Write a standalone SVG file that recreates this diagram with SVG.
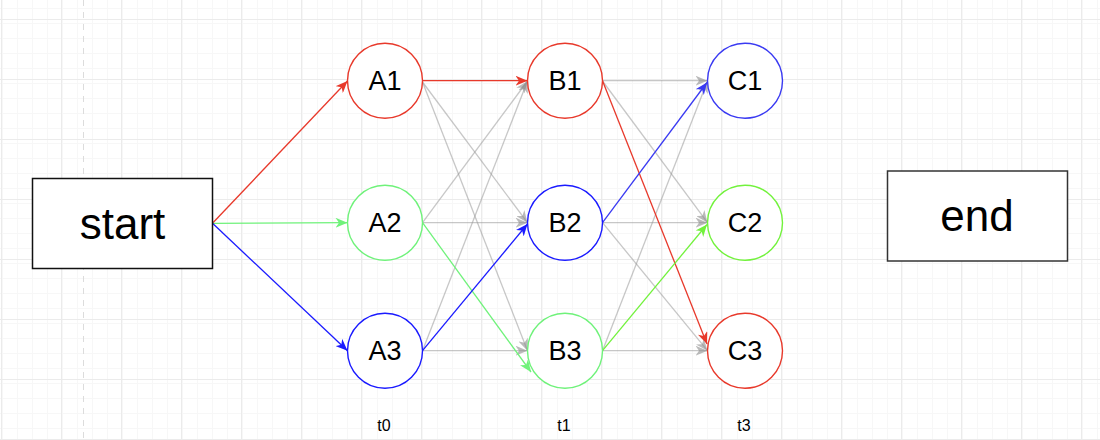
<svg xmlns="http://www.w3.org/2000/svg" width="1100" height="440" viewBox="0 0 1100 440">
  <defs>
    <pattern id="minor" x="1" y="19" width="15" height="15" patternUnits="userSpaceOnUse">
      <path d="M0.5 0V15M0 0.5H15" stroke="#f7f7f7" stroke-width="1" fill="none"/>
    </pattern>
    <pattern id="major" x="1" y="19" width="60" height="60" patternUnits="userSpaceOnUse">
      <rect width="60" height="60" fill="url(#minor)"/>
      <path d="M0.5 0V60M0 0.5H60" stroke="#ebebeb" stroke-width="1" fill="none"/>
    </pattern>
    <marker id="mRed" viewBox="0 0 12 10" refX="12" refY="5" markerWidth="12" markerHeight="10" markerUnits="userSpaceOnUse" orient="auto">
      <path d="M0,0 L12,5 L0,10 L3.5,5 Z" fill="#e8392b"/>
    </marker>
    <marker id="mGreen" viewBox="0 0 12 10" refX="12" refY="5" markerWidth="12" markerHeight="10" markerUnits="userSpaceOnUse" orient="auto">
      <path d="M0,0 L12,5 L0,10 L3.5,5 Z" fill="#6ff27a"/>
    </marker>
    <marker id="mLime" viewBox="0 0 12 10" refX="12" refY="5" markerWidth="12" markerHeight="10" markerUnits="userSpaceOnUse" orient="auto">
      <path d="M0,0 L12,5 L0,10 L3.5,5 Z" fill="#72f23c"/>
    </marker>
    <marker id="mBlue" viewBox="0 0 12 10" refX="12" refY="5" markerWidth="12" markerHeight="10" markerUnits="userSpaceOnUse" orient="auto">
      <path d="M0,0 L12,5 L0,10 L3.5,5 Z" fill="#1a1aff"/>
    </marker>
    <marker id="mBlue2" viewBox="0 0 12 10" refX="12" refY="5" markerWidth="12" markerHeight="10" markerUnits="userSpaceOnUse" orient="auto">
      <path d="M0,0 L12,5 L0,10 L3.5,5 Z" fill="#3a3af2"/>
    </marker>
    <marker id="mGray" viewBox="0 0 12 10" refX="12" refY="5" markerWidth="12" markerHeight="10" markerUnits="userSpaceOnUse" orient="auto">
      <path d="M0,0 L12,5 L0,10 L3.5,5 Z" fill="#8c8c8c" fill-opacity="0.6"/>
    </marker>
  </defs>
  <style>
    .lbl { font-family: "Liberation Sans", Arial, sans-serif; fill: #000; text-anchor: middle; }
    .big { font-size: 44px; }
    .mid { font-size: 27px; }
    .sm { font-size: 16px; }
    .box { fill: #fff; stroke-width: 1.5; }
    .node { fill: #fff; stroke-width: 1.4; }
    .e { fill: none; stroke-width: 1.3; }
    .gray { stroke: #999; stroke-opacity: 0.55; marker-end: url(#mGray); }
    .red { stroke: #e8392b; marker-end: url(#mRed); }
    .green { stroke: #6ff27a; marker-end: url(#mGreen); }
    .lime { stroke: #72f23c; marker-end: url(#mLime); }
    .blue { stroke: #1a1aff; marker-end: url(#mBlue); }
    .blue2 { stroke: #3a3af2; marker-end: url(#mBlue2); }
  </style>

  <rect width="1100" height="440" fill="#fff"/>
  <rect width="1100" height="440" fill="url(#major)"/>
  <line x1="83.5" y1="0" x2="83.5" y2="440" stroke="#dcdcdc" stroke-width="1" stroke-dasharray="6 6"/>

  <g id="connectors">
    <line class="e red" x1="212.5" y1="223.3" x2="347.5" y2="81"/>
    <line class="e green" x1="212.5" y1="223.3" x2="347.5" y2="222.7"/>
    <line class="e blue" x1="212.5" y1="223.3" x2="347.5" y2="350.7"/>

    <line class="e gray" x1="422.5" y1="82" x2="527.5" y2="222.7"/>
    <line class="e gray" x1="422.5" y1="82" x2="527.5" y2="350.7"/>
    <line class="e gray" x1="422.5" y1="222.7" x2="527.5" y2="81"/>
    <line class="e gray" x1="422.5" y1="222.7" x2="527.5" y2="222.7"/>
    <line class="e gray" x1="422.5" y1="350.7" x2="527.5" y2="81"/>
    <line class="e gray" x1="422.5" y1="350.7" x2="527.5" y2="350.7"/>
    <line class="e red" x1="422.5" y1="80.7" x2="527.5" y2="80.7"/>
    <line class="e green" x1="422.5" y1="222.7" x2="531" y2="372"/>
    <line class="e blue" x1="422.5" y1="350.7" x2="527.5" y2="224"/>

    <line class="e gray" x1="602.5" y1="80.7" x2="707.5" y2="80.7"/>
    <line class="e gray" x1="602.5" y1="81" x2="707.5" y2="222.7"/>
    <line class="e gray" x1="602.5" y1="222.7" x2="707.5" y2="222.7"/>
    <line class="e gray" x1="602.5" y1="222.7" x2="707.5" y2="350.7"/>
    <line class="e gray" x1="602.5" y1="350.7" x2="707.5" y2="81"/>
    <line class="e gray" x1="602.5" y1="350.7" x2="707.5" y2="350.7"/>
    <line class="e red" x1="602.5" y1="80.7" x2="707" y2="344"/>
    <line class="e blue2" x1="602.5" y1="222.7" x2="707" y2="82.5"/>
    <line class="e lime" x1="602.5" y1="350.7" x2="707" y2="224.5"/>
  </g>

  <g id="start">
    <rect class="box" x="32.5" y="178.5" width="180" height="90" stroke="#111"/>
    <text class="lbl big" x="122.5" y="239">start</text>
  </g>
  <g id="end">
    <rect class="box" x="887.5" y="171" width="180" height="90" stroke="#333"/>
    <text class="lbl big" x="977" y="230.7">end</text>
  </g>

  <g id="A1"><circle class="node" cx="385" cy="80.7" r="37.5" stroke="#e8392b"/><text class="lbl mid" x="385" y="90.3">A1</text></g>
  <g id="A2"><circle class="node" cx="385" cy="222.7" r="37.5" stroke="#6ff27a"/><text class="lbl mid" x="385" y="232.3">A2</text></g>
  <g id="A3"><circle class="node" cx="385" cy="350.7" r="37.5" stroke="#1a1aff"/><text class="lbl mid" x="385" y="360.3">A3</text></g>

  <g id="B1"><circle class="node" cx="565" cy="80.7" r="37.5" stroke="#e8392b"/><text class="lbl mid" x="565" y="90.3">B1</text></g>
  <g id="B2"><circle class="node" cx="565" cy="222.7" r="37.5" stroke="#1a1aff"/><text class="lbl mid" x="565" y="232.3">B2</text></g>
  <g id="B3"><circle class="node" cx="565" cy="350.7" r="37.5" stroke="#6ff27a"/><text class="lbl mid" x="565" y="360.3">B3</text></g>

  <g id="C1"><circle class="node" cx="745" cy="80.7" r="37.5" stroke="#3a3af2"/><text class="lbl mid" x="745" y="90.3">C1</text></g>
  <g id="C2"><circle class="node" cx="745" cy="222.7" r="37.5" stroke="#72f23c"/><text class="lbl mid" x="745" y="232.3">C2</text></g>
  <g id="C3"><circle class="node" cx="745" cy="350.7" r="37.5" stroke="#e8392b"/><text class="lbl mid" x="745" y="360.3">C3</text></g>

  <g id="labels">
    <text class="lbl sm" x="384" y="430.5">t0</text>
    <text class="lbl sm" x="564" y="430.5">t1</text>
    <text class="lbl sm" x="744" y="430.5">t3</text>
  </g>
</svg>
